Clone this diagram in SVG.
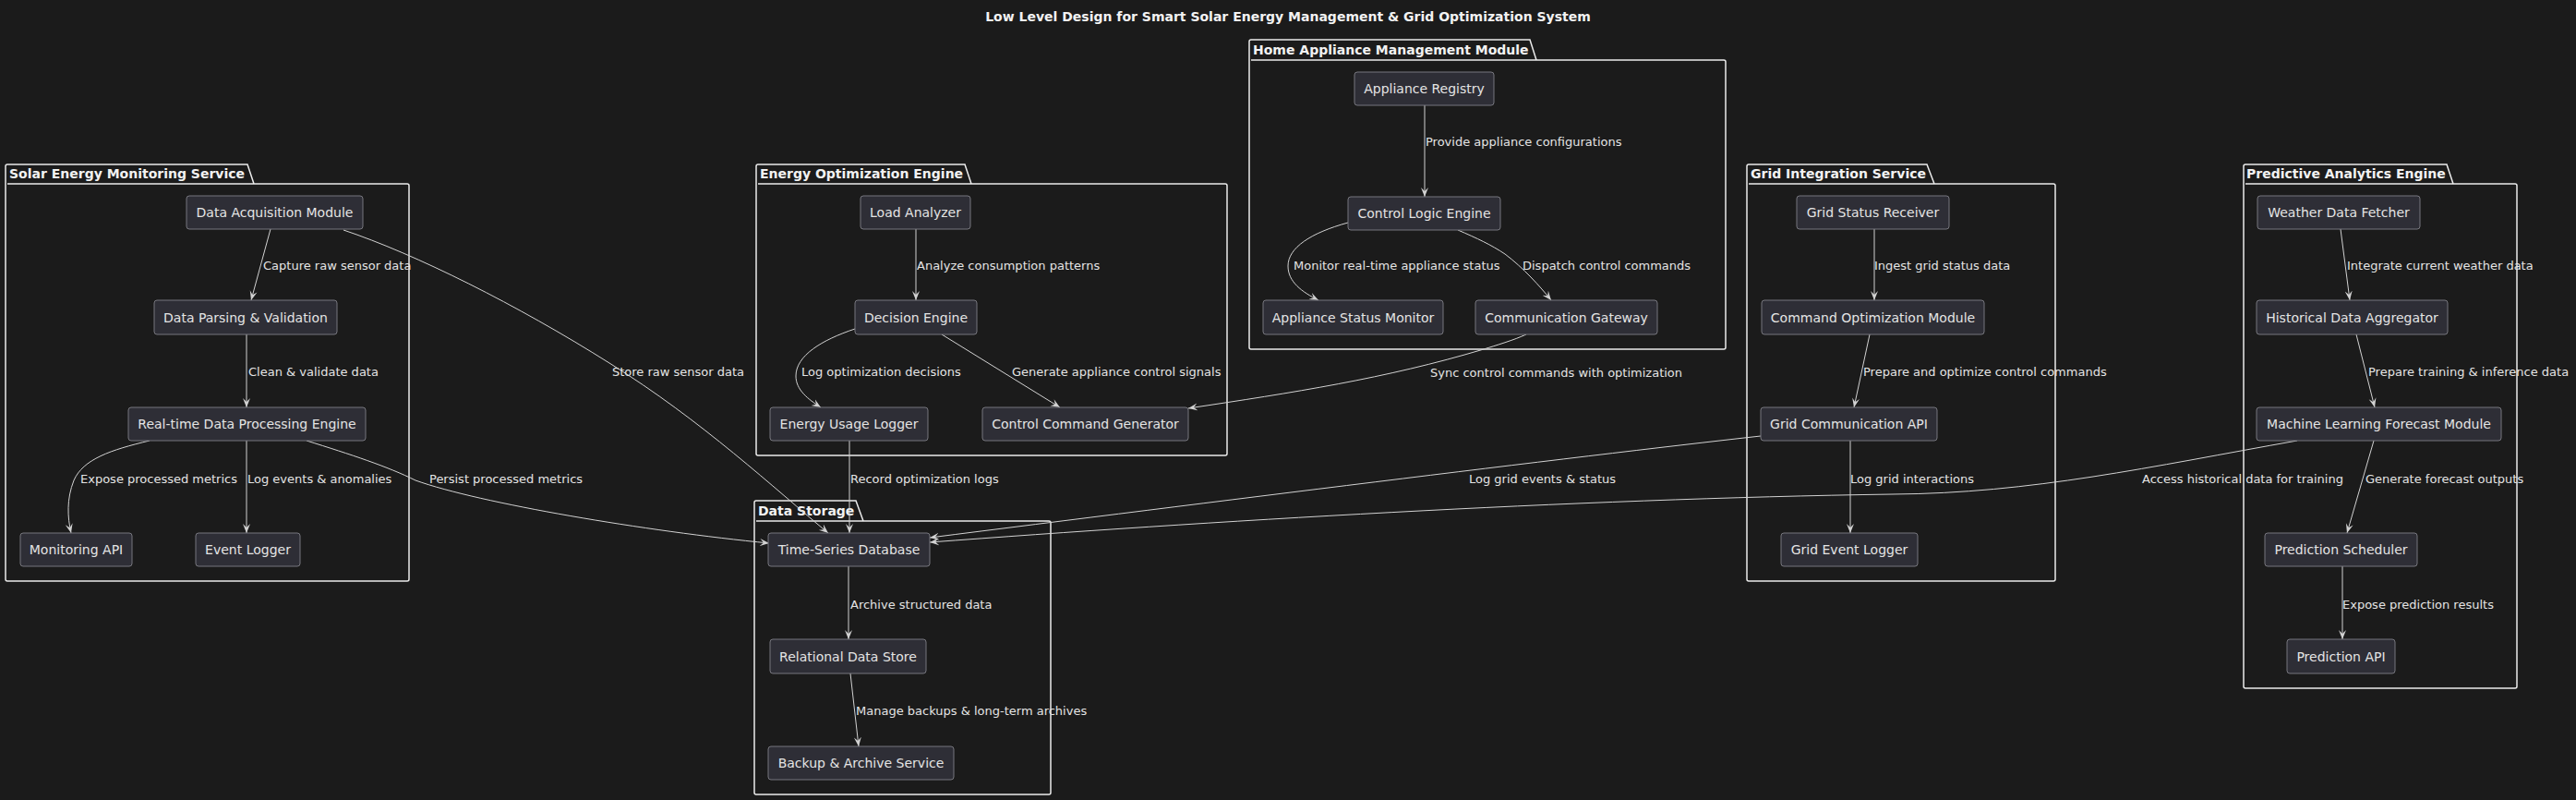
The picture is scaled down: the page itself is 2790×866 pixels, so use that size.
<svg xmlns="http://www.w3.org/2000/svg" width="2790" height="866" viewBox="0 0 2790 866">
<style>
.bg{fill:#1b1b1b}
.title{font-family:"DejaVu Sans",sans-serif;font-weight:bold;font-size:14px;fill:#f2f2f2}
.pkg{fill:none;stroke:#ececec;stroke-width:1.5}
.pkgl{font-family:"DejaVu Sans",sans-serif;font-weight:bold;font-size:14px;fill:#f2f2f2}
.node rect{fill:#2e2e36;stroke:#77777e;stroke-width:1}
.node text{font-family:"DejaVu Sans",sans-serif;font-size:14px;fill:#e4e4e4;text-anchor:middle;dominant-baseline:central}
.edge{fill:none;stroke:#d2d2d2;stroke-width:1;marker-end:url(#arr)}
.lbl{font-family:"DejaVu Sans",sans-serif;font-size:13px;fill:#e4e4e4;dominant-baseline:central}
</style>
<defs>
<marker id="arr" viewBox="0 0 10 10" refX="10" refY="5" markerWidth="10" markerHeight="10" markerUnits="userSpaceOnUse" orient="auto">
<path d="M0,1 L10,5 L0,9 L4,5 Z" fill="#d2d2d2"/>
</marker>
</defs>
<rect class="bg" x="0" y="0" width="2790" height="866"/>
<text class="title" x="1395" y="23" text-anchor="middle">Low Level Design for Smart Solar Energy Management &amp; Grid Optimization System</text>

<g id="packages">
<g id="pkg-solar">
<path class="pkg" d="M6,199 L6,180 Q6,178 8,178 L268,178 L275,199 M8,199 L441,199 Q443,199 443,201 L443,627 Q443,629 441,629 L8,629 Q6,629 6,627 L6,199"/>
<text class="pkgl" x="10" y="193">Solar Energy Monitoring Service</text>
</g>
<g id="pkg-energy">
<path class="pkg" d="M819,199 L819,180 Q819,178 821,178 L1045,178 L1052,199 M821,199 L1327,199 Q1329,199 1329,201 L1329,491 Q1329,493 1327,493 L821,493 Q819,493 819,491 L819,199"/>
<text class="pkgl" x="823" y="193">Energy Optimization Engine</text>
</g>
<g id="pkg-home">
<path class="pkg" d="M1353,65 L1353,45 Q1353,43 1355,43 L1657,43 L1664,65 M1355,65 L1867,65 Q1869,65 1869,67 L1869,376 Q1869,378 1867,378 L1355,378 Q1353,378 1353,376 L1353,65"/>
<text class="pkgl" x="1357" y="59">Home Appliance Management Module</text>
</g>
<g id="pkg-storage">
<path class="pkg" d="M817,564 L817,544 Q817,542 819,542 L927,542 L935,564 M819,564 L1136,564 Q1138,564 1138,566 L1138,858 Q1138,860 1136,860 L819,860 Q817,860 817,858 L817,564"/>
<text class="pkgl" x="821" y="558">Data Storage</text>
</g>
<g id="pkg-grid">
<path class="pkg" d="M1892,199 L1892,180 Q1892,178 1894,178 L2087,178 L2095,199 M1894,199 L2224,199 Q2226,199 2226,201 L2226,627 Q2226,629 2224,629 L1894,629 Q1892,629 1892,627 L1892,199"/>
<text class="pkgl" x="1896" y="193">Grid Integration Service</text>
</g>
<g id="pkg-predict">
<path class="pkg" d="M2430,199 L2430,180 Q2430,178 2432,178 L2650,178 L2657,199 M2432,199 L2724,199 Q2726,199 2726,201 L2726,743 Q2726,745 2724,745 L2432,745 Q2430,745 2430,743 L2430,199"/>
<text class="pkgl" x="2433" y="193">Predictive Analytics Engine</text>
</g>
</g>

<g id="connectors">
<path class="edge" d="M293,248 L272,325"/>
<path class="edge" d="M267,362 L267,441"/>
<path class="edge" d="M162,477 C120,487 90,497 80,520 C72,540 73,560 77,577"/>
<path class="edge" d="M267,477 L267,577"/>
<path class="edge" d="M372,249 C450,275 560,330 660,393 C760,455 840,530 897,577"/>
<path class="edge" d="M332,477 C380,492 420,505 450,520 C520,545 700,575 833,588"/>
<path class="edge" d="M992,248 L992,325"/>
<path class="edge" d="M926,356 C890,368 862,385 862,407 C862,422 875,432 889,441"/>
<path class="edge" d="M1020,362 L1148,441"/>
<path class="edge" d="M920,477 L920,577"/>
<path class="edge" d="M1543,114 L1543,213"/>
<path class="edge" d="M1460,241 C1420,252 1395,268 1395,288 C1395,305 1410,316 1428,325"/>
<path class="edge" d="M1579,249 C1600,258 1615,265 1630,275 C1650,290 1668,310 1680,325"/>
<path class="edge" d="M1653,362 C1640,368 1620,374 1607,378 C1500,410 1400,425 1287,442"/>
<path class="edge" d="M919,613 L919,692"/>
<path class="edge" d="M921,729 L930,808"/>
<path class="edge" d="M2030,248 L2030,325"/>
<path class="edge" d="M2025,362 L2008,441"/>
<path class="edge" d="M2004,477 L2004,577"/>
<path class="edge" d="M1907,472 C1700,495 1300,545 1007,582"/>
<path class="edge" d="M2535,248 L2545,325"/>
<path class="edge" d="M2552,362 L2572,441"/>
<path class="edge" d="M2571,477 L2542,577"/>
<path class="edge" d="M2537,613 L2537,692"/>
<path class="edge" d="M2488,477 C2330,505 2200,534 2050,535 C1700,540 1300,565 1007,587"/>

<text class="lbl" x="285" y="287">Capture raw sensor data</text>
<text class="lbl" x="269" y="402">Clean &amp; validate data</text>
<text class="lbl" x="87" y="518">Expose processed metrics</text>
<text class="lbl" x="268" y="518">Log events &amp; anomalies</text>
<text class="lbl" x="663" y="402">Store raw sensor data</text>
<text class="lbl" x="465" y="518">Persist processed metrics</text>
<text class="lbl" x="993" y="287">Analyze consumption patterns</text>
<text class="lbl" x="868" y="402">Log optimization decisions</text>
<text class="lbl" x="1096" y="402">Generate appliance control signals</text>
<text class="lbl" x="921" y="518">Record optimization logs</text>
<text class="lbl" x="1544" y="153">Provide appliance configurations</text>
<text class="lbl" x="1401" y="287">Monitor real-time appliance status</text>
<text class="lbl" x="1649" y="287">Dispatch control commands</text>
<text class="lbl" x="1549" y="403">Sync control commands with optimization</text>
<text class="lbl" x="921" y="654">Archive structured data</text>
<text class="lbl" x="927" y="769">Manage backups &amp; long-term archives</text>
<text class="lbl" x="2030" y="287">Ingest grid status data</text>
<text class="lbl" x="2018" y="402">Prepare and optimize control commands</text>
<text class="lbl" x="2004" y="518">Log grid interactions</text>
<text class="lbl" x="1591" y="518">Log grid events &amp; status</text>
<text class="lbl" x="2542" y="287">Integrate current weather data</text>
<text class="lbl" x="2565" y="402">Prepare training &amp; inference data</text>
<text class="lbl" x="2562" y="518">Generate forecast outputs</text>
<text class="lbl" x="2537" y="654">Expose prediction results</text>
<text class="lbl" x="2320" y="518">Access historical data for training</text>
</g>

<g id="n-dam" class="node"><rect x="202" y="212" width="191" height="36" rx="3"/><text x="297.5" y="230">Data Acquisition Module</text></g>
<g id="n-dpv" class="node"><rect x="167" y="325" width="198" height="37" rx="3"/><text x="266" y="343.5">Data Parsing &amp; Validation</text></g>
<g id="n-rtdpe" class="node"><rect x="139" y="441" width="257" height="36" rx="3"/><text x="267.5" y="459">Real-time Data Processing Engine</text></g>
<g id="n-monapi" class="node"><rect x="22" y="577" width="121" height="36" rx="3"/><text x="82.5" y="595">Monitoring API</text></g>
<g id="n-evlog" class="node"><rect x="212" y="577" width="113" height="36" rx="3"/><text x="268.5" y="595">Event Logger</text></g>

<g id="n-la" class="node"><rect x="932" y="212" width="119" height="36" rx="3"/><text x="991.5" y="230">Load Analyzer</text></g>
<g id="n-de" class="node"><rect x="926" y="325" width="132" height="37" rx="3"/><text x="992" y="343.5">Decision Engine</text></g>
<g id="n-eul" class="node"><rect x="834" y="441" width="171" height="36" rx="3"/><text x="919.5" y="459">Energy Usage Logger</text></g>
<g id="n-ccg" class="node"><rect x="1064" y="441" width="223" height="36" rx="3"/><text x="1175.5" y="459">Control Command Generator</text></g>

<g id="n-ar" class="node"><rect x="1467" y="78" width="151" height="36" rx="3"/><text x="1542.5" y="96">Appliance Registry</text></g>
<g id="n-cle" class="node"><rect x="1460" y="213" width="165" height="36" rx="3"/><text x="1542.5" y="231">Control Logic Engine</text></g>
<g id="n-asm" class="node"><rect x="1368" y="325" width="195" height="37" rx="3"/><text x="1465.5" y="343.5">Appliance Status Monitor</text></g>
<g id="n-cg" class="node"><rect x="1598" y="325" width="197" height="37" rx="3"/><text x="1696.5" y="343.5">Communication Gateway</text></g>

<g id="n-tsdb" class="node"><rect x="832" y="577" width="175" height="36" rx="3"/><text x="919.5" y="595">Time-Series Database</text></g>
<g id="n-rds" class="node"><rect x="834" y="692" width="169" height="37" rx="3"/><text x="918.5" y="710.5">Relational Data Store</text></g>
<g id="n-bas" class="node"><rect x="832" y="808" width="201" height="36" rx="3"/><text x="932.5" y="826">Backup &amp; Archive Service</text></g>

<g id="n-gsr" class="node"><rect x="1946" y="212" width="165" height="36" rx="3"/><text x="2028.5" y="230">Grid Status Receiver</text></g>
<g id="n-com" class="node"><rect x="1908" y="325" width="241" height="37" rx="3"/><text x="2028.5" y="343.5">Command Optimization Module</text></g>
<g id="n-gca" class="node"><rect x="1907" y="441" width="191" height="36" rx="3"/><text x="2002.5" y="459">Grid Communication API</text></g>
<g id="n-gel" class="node"><rect x="1929" y="577" width="148" height="36" rx="3"/><text x="2003" y="595">Grid Event Logger</text></g>

<g id="n-wdf" class="node"><rect x="2445" y="212" width="176" height="36" rx="3"/><text x="2533" y="230">Weather Data Fetcher</text></g>
<g id="n-hda" class="node"><rect x="2444" y="325" width="207" height="37" rx="3"/><text x="2547.5" y="343.5">Historical Data Aggregator</text></g>
<g id="n-ml" class="node"><rect x="2444" y="441" width="265" height="36" rx="3"/><text x="2576.5" y="459">Machine Learning Forecast Module</text></g>
<g id="n-ps" class="node"><rect x="2453" y="577" width="165" height="36" rx="3"/><text x="2535.5" y="595">Prediction Scheduler</text></g>
<g id="n-papi" class="node"><rect x="2477" y="692" width="117" height="37" rx="3"/><text x="2535.5" y="710.5">Prediction API</text></g>
</svg>
